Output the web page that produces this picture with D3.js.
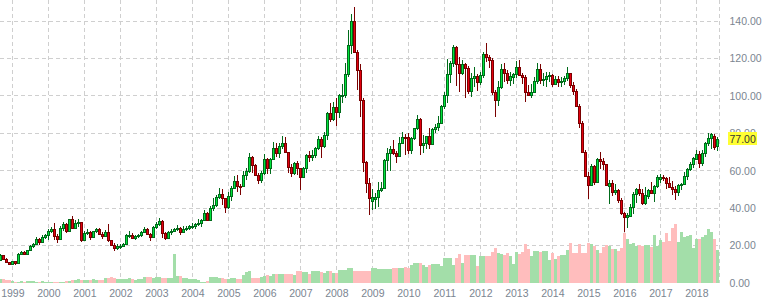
<!DOCTYPE html>
<html>
<head>
<meta charset="utf-8">
<script src="https://cdn.jsdelivr.net/npm/d3@7/dist/d3.min.js"></script>
<style>
body { margin: 0; background: #fff; }
.axis text { font-family: Arial, "Liberation Sans", sans-serif; font-size: 10.5px; fill: #7b8591; }
</style>
</head>
<body>
<div id="chart"></div>
<script>
// monthly candles, Sep 1998 .. Aug 2018

var years = [1999, 2000, 2001, 2002, 2003, 2004, 2005, 2006, 2007, 2008, 2009,
             2010, 2011, 2012, 2013, 2014, 2015, 2016, 2017, 2018];
var priceTicks = [0, 20, 40, 60, 80, 100, 120, 140];

var opens = [
    12.4, 14.8, 12.9, 11.1,
    10.4, 11.6, 10.6, 15.4, 16.6, 15.5, 17.6, 19.9, 20.9, 23.6, 21.8, 24.6,
    25.6, 27.6, 28.8, 25.0, 23.6, 29.6, 31.6, 27.8, 34.0, 29.6, 31.8, 32.4,
    23.2, 26.8, 27.4, 24.6, 27.6, 28.6, 26.2, 25.2, 27.2, 22.8, 20.4, 18.6,
    19.6, 19.8, 21.0, 25.6, 25.8, 24.2, 25.0, 25.6, 27.2, 28.6, 26.4, 24.8,
    29.8, 31.6, 33.2, 26.6, 24.0, 27.4, 27.6, 29.0, 29.6, 27.2, 28.8, 29.6,
    30.4, 30.6, 31.4, 31.9, 33.7, 37.4, 33.8, 40.0, 41.6, 46.2, 47.8, 45.2,
    40.6, 46.6, 50.6, 54.6, 51.8, 51.6, 57.6, 59.6, 67.4, 63.0, 57.8, 55.0,
    59.0, 66.0, 61.4, 66.4, 72.0, 69.6, 73.2, 75.0, 69.8, 61.8, 58.6, 64.0,
    61.2, 56.8, 61.6, 68.2, 67.4, 68.6, 72.0, 77.2, 73.2, 79.2, 90.8, 87.8,
    93.8, 91.6, 100.2, 100.4, 111.6, 127.4, 139.8, 123.4, 114.0, 97.8, 64.8, 53.4,
    43.6, 45.0, 46.2, 49.6, 50.6, 65.6, 69.3, 71.6, 69.4, 68.0, 75.0, 78.0,
    77.8, 71.2, 77.4, 82.6, 87.4, 74.0, 75.0, 78.4, 74.2, 82.2, 83.4, 85.6,
    94.6, 100.4, 111.8, 117.6, 126.0, 117.2, 112.4, 116.8, 114.8, 102.8, 109.6, 110.6,
    107.4, 111.0, 122.6, 121.0, 119.4, 101.8, 97.6, 104.8, 114.6, 112.2, 108.6, 110.2,
    111.6, 115.6, 111.4, 110.0, 102.2, 100.4, 102.0, 107.8, 114.2, 108.4, 109.0, 110.6,
    111.2, 106.6, 109.0, 107.6, 108.2, 109.4, 112.2, 106.0, 102.6, 94.6, 85.6, 70.2,
    57.2, 52.6, 62.4, 54.2, 66.4, 65.2, 63.4, 51.8, 53.2, 48.4, 49.6, 44.6,
    37.4, 35.2, 36.0, 40.4, 47.6, 50.0, 48.2, 42.6, 46.6, 49.8, 48.2, 51.6,
    55.8, 56.6, 56.0, 53.4, 51.2, 50.2, 48.6, 52.6, 52.8, 57.4, 60.8, 63.4,
    66.4, 68.8, 64.2, 69.4, 75.0, 77.4, 78.6, 73.2
];

var highs = [
    15.6, 15.0, 13.2, 11.4,
    12.0, 11.8, 15.8, 17.3, 17.0, 17.9, 20.4, 21.4, 24.6, 24.0, 25.4, 26.4,
    28.6, 30.0, 32.0, 26.4, 30.2, 32.6, 32.2, 34.4, 35.8, 33.6, 34.2, 32.8,
    27.8, 28.8, 27.6, 28.0, 29.6, 29.4, 27.0, 28.2, 31.4, 23.2, 21.6, 20.6,
    20.8, 21.4, 26.4, 27.8, 26.8, 25.6, 26.4, 27.6, 30.0, 29.4, 26.6, 30.4,
    32.8, 34.8, 33.8, 27.2, 28.0, 28.8, 29.4, 30.8, 29.8, 30.6, 30.2, 30.8,
    32.0, 32.2, 34.0, 34.4, 39.2, 38.0, 41.0, 45.3, 47.0, 51.0, 50.2, 45.6,
    48.6, 51.8, 57.4, 57.8, 53.0, 59.6, 61.4, 69.2, 67.8, 63.6, 58.6, 59.6,
    68.8, 66.6, 66.8, 75.4, 74.6, 74.6, 78.6, 78.0, 70.2, 63.6, 64.6, 65.0,
    61.6, 62.0, 68.8, 70.4, 71.0, 72.8, 78.6, 77.8, 80.6, 91.2, 96.2, 96.6,
    98.6, 101.2, 106.6, 117.8, 135.0, 143.6, 147.6, 124.6, 117.2, 98.6, 65.4, 56.0,
    50.4, 48.0, 54.0, 54.0, 66.0, 72.0, 73.2, 76.4, 70.4, 78.0, 80.6, 79.6,
    80.0, 78.2, 83.0, 89.8, 88.0, 79.0, 78.8, 83.0, 82.6, 85.2, 89.0, 95.0,
    101.8, 119.8, 118.8, 127.0, 126.6, 120.6, 119.0, 117.6, 116.0, 112.4, 115.4, 111.6,
    113.0, 123.2, 128.2, 122.0, 120.0, 103.0, 108.0, 117.0, 117.8, 114.0, 112.6, 112.4,
    118.4, 119.2, 112.0, 111.0, 106.0, 106.2, 110.2, 117.4, 117.0, 112.0, 112.8, 113.0,
    111.8, 110.8, 110.4, 110.0, 110.6, 115.6, 112.4, 107.4, 103.8, 95.6, 86.6, 71.0,
    59.2, 63.4, 63.2, 67.0, 70.2, 66.6, 63.6, 54.8, 54.8, 53.0, 50.4, 45.4,
    38.2, 37.6, 42.4, 48.6, 50.6, 52.8, 50.4, 51.2, 50.4, 53.8, 52.4, 57.8,
    58.4, 57.8, 56.8, 56.6, 54.6, 52.0, 53.0, 53.4, 59.4, 61.4, 64.6, 67.2,
    71.2, 70.4, 71.0, 75.6, 80.4, 80.0, 79.4, 77.8
];

var lows = [
    12.1, 12.4, 10.9, 9.6,
    10.0, 9.8, 10.4, 14.8, 14.9, 15.2, 17.3, 18.9, 20.4, 20.4, 21.4, 23.5,
    23.2, 26.6, 23.2, 21.4, 23.2, 27.8, 26.8, 27.4, 28.8, 29.0, 30.0, 21.8,
    22.6, 25.6, 23.2, 23.8, 26.8, 25.6, 23.6, 24.6, 22.0, 19.6, 17.0, 17.6,
    18.0, 19.0, 20.6, 24.0, 23.4, 23.0, 23.8, 24.6, 26.8, 25.8, 22.6, 24.2,
    28.6, 30.4, 24.0, 23.0, 23.4, 25.8, 27.0, 28.0, 25.4, 26.8, 27.6, 28.4,
    28.6, 28.8, 30.4, 29.8, 33.2, 33.0, 33.4, 38.6, 40.4, 45.0, 41.6, 37.6,
    39.6, 43.6, 50.0, 48.8, 47.0, 51.4, 54.8, 58.8, 58.6, 57.0, 52.8, 53.2,
    57.6, 58.4, 58.4, 65.8, 67.4, 66.8, 71.6, 69.6, 58.8, 56.6, 57.8, 57.6,
    49.8, 56.2, 58.8, 64.6, 65.4, 67.0, 71.0, 67.0, 72.4, 76.4, 86.0, 86.4,
    84.0, 88.0, 96.2, 98.6, 110.0, 122.6, 122.8, 103.0, 88.8, 59.4, 48.2, 36.2,
    39.2, 39.4, 40.8, 48.6, 50.2, 59.6, 59.6, 68.6, 64.0, 67.4, 74.8, 68.6,
    68.8, 69.0, 76.6, 82.0, 68.4, 69.6, 71.6, 71.6, 73.6, 80.0, 81.2, 85.2,
    93.0, 96.4, 106.8, 115.6, 105.4, 102.2, 111.0, 98.8, 101.2, 99.6, 104.8, 102.8,
    105.6, 109.6, 118.0, 115.0, 100.4, 88.6, 94.6, 103.6, 107.4, 106.2, 105.4, 106.4,
    109.4, 110.4, 106.2, 96.6, 100.4, 99.0, 101.6, 106.4, 106.6, 105.2, 104.8, 107.6,
    104.8, 105.6, 104.6, 104.6, 105.6, 108.0, 104.4, 100.6, 94.0, 82.6, 69.8, 56.4,
    45.0, 52.0, 52.6, 53.4, 61.0, 60.4, 51.6, 42.2, 46.4, 47.2, 42.8, 36.2,
    27.0, 29.6, 35.6, 36.8, 43.0, 46.6, 41.6, 41.6, 44.8, 47.8, 43.2, 51.0,
    53.6, 54.6, 50.4, 50.6, 47.0, 44.4, 46.6, 49.8, 52.2, 55.0, 59.6, 61.4,
    66.0, 61.6, 62.4, 67.2, 73.4, 71.8, 71.0, 70.6
];

var closes = [
    14.8, 12.9, 11.1, 10.4,
    11.6, 10.6, 15.4, 16.6, 15.5, 17.6, 19.9, 20.9, 23.6, 21.8, 24.6, 25.6,
    27.6, 28.8, 25.0, 23.6, 29.6, 31.6, 27.8, 34.0, 29.6, 31.8, 32.4, 23.2,
    26.8, 27.4, 24.6, 27.6, 28.6, 26.2, 25.2, 27.2, 22.8, 20.4, 18.6, 19.6,
    19.8, 21.0, 25.6, 25.8, 24.2, 25.0, 25.6, 27.2, 28.6, 26.4, 24.8, 29.8,
    31.6, 33.2, 26.6, 24.0, 27.4, 27.6, 29.0, 29.6, 27.2, 28.8, 29.6, 30.4,
    30.6, 31.4, 31.9, 33.7, 37.4, 33.8, 40.0, 41.6, 46.2, 47.8, 45.2, 40.6,
    46.6, 50.6, 54.6, 51.8, 51.6, 57.6, 59.6, 67.4, 63.0, 57.8, 55.0, 59.0,
    66.0, 61.4, 66.4, 72.0, 69.6, 73.2, 75.0, 69.8, 61.8, 58.6, 64.0, 61.2,
    56.8, 61.6, 68.2, 67.4, 68.6, 72.0, 77.2, 73.2, 79.2, 90.8, 87.8, 93.8,
    91.6, 100.2, 100.4, 111.6, 127.4, 139.8, 123.4, 114.0, 97.8, 64.8, 53.4, 45.4,
    46.0, 46.2, 49.6, 50.6, 65.6, 69.3, 71.6, 69.4, 68.0, 75.0, 78.0, 77.8,
    71.2, 77.4, 82.6, 87.4, 74.0, 75.0, 78.4, 74.2, 82.2, 83.4, 85.6, 94.6,
    100.4, 111.8, 117.6, 126.0, 117.2, 112.4, 116.8, 114.8, 102.8, 109.6, 110.6, 107.4,
    111.0, 122.6, 121.0, 119.4, 101.8, 97.6, 104.8, 114.6, 112.2, 108.6, 110.6, 111.6,
    115.6, 111.4, 110.0, 102.2, 100.4, 102.0, 107.8, 114.2, 108.4, 109.0, 110.6, 111.2,
    106.6, 109.0, 107.6, 108.2, 109.4, 112.2, 106.0, 102.6, 94.6, 85.6, 70.2, 57.2,
    52.6, 62.4, 54.2, 66.4, 65.2, 63.4, 52.2, 53.2, 48.4, 49.6, 44.6, 37.2,
    35.2, 36.6, 40.4, 47.6, 50.0, 48.2, 43.0, 46.8, 49.8, 48.2, 51.6, 56.8,
    56.6, 56.0, 53.4, 51.2, 50.2, 48.6, 52.6, 52.8, 57.4, 60.8, 63.4, 66.6,
    68.8, 64.2, 69.4, 75.0, 77.4, 79.6, 72.8, 77.0
];

var volumes = [
    4, 4, 3, 3,
    2, 1, 1, 2, 1, 2, 2, 2, 1, 1, 2, 1,
    1, 1, 1, 1, 1, 1, 2, 2, 3, 3, 4, 3,
    3, 3, 3, 4, 3, 3, 3, 5, 5, 6, 5, 4,
    4, 4, 4, 5, 4, 3, 4, 4, 6, 6, 6, 5,
    6, 6, 5, 5, 5, 5, 29, 7, 7, 5, 5, 4,
    4, 4, 3, 1, 1, 2, 6, 6, 6, 5, 5, 4,
    4, 5, 5, 4, 4, 8, 11, 12, 5, 5, 5, 6,
    7, 8, 7, 9, 9, 9, 9, 9, 9, 9, 8, 12,
    12, 11, 11, 9, 12, 12, 12, 11, 10, 12, 12, 10,
    10, 13, 13, 13, 15, 15, 12, 12, 12, 12, 12, 12,
    15, 15, 14, 14, 14, 14, 14, 15, 15, 15, 15, 16,
    15, 18, 20, 20, 20, 18, 16, 18, 19, 19, 19, 17,
    25, 25, 25, 18, 25, 29, 20, 28, 28, 28, 28, 17,
    27, 27, 27, 27, 31, 35, 30, 29, 28, 30, 27, 19,
    31, 29, 31, 39, 34, 27, 32, 32, 31, 32, 32, 23,
    30, 24, 27, 28, 28, 33, 40, 30, 30, 39, 30, 30,
    40, 39, 37, 33, 30, 36, 38, 37, 34, 34, 32, 35,
    50, 44, 39, 40, 37, 38, 37, 38, 38, 36, 48, 37,
    43, 41, 50, 42, 55, 59, 41, 51, 46, 47, 48, 35,
    44, 44, 46, 48, 54, 51, 44, 33
];

var svgWidth = 763;
var svgHeight = 305;
var plotRight = 719.5;
var plotBottom = 283;

var svg = d3.select('#chart')
    .append('svg')
    .attr('width', svgWidth)
    .attr('height', svgHeight);

// index scale: one step per month, 0 = Sep 1998
var x = d3.scaleLinear()
    .domain([0, closes.length])
    .range([0.3, 720.3]);

var y = d3.scaleLinear()
    .domain([0, 140])
    .range([plotBottom, 21]);

var yVol = d3.scaleLinear()
    .domain([0, 60])
    .range([plotBottom, plotBottom - 60]);

var yearIndex = years.map(yr => (yr - 1998) * 12 - 8);

svg.append('clipPath')
    .attr('id', 'plot-clip')
    .append('rect')
    .attr('x', 0).attr('y', 0)
    .attr('width', plotRight).attr('height', plotBottom);

// grid
var grid = svg.append('g')
    .attr('stroke', '#cfcfcf')
    .attr('stroke-width', 1)
    .attr('stroke-dasharray', '4,3');

grid.selectAll('.hgrid')
    .data(priceTicks.filter(d => d > 0))
    .enter()
    .append('line')
    .attr('x1', 0)
    .attr('x2', plotRight)
    .attr('y1', d => Math.floor(y(d)) + 0.5)
    .attr('y2', d => Math.floor(y(d)) + 0.5);

grid.selectAll('.vgrid')
    .data(yearIndex)
    .enter()
    .append('line')
    .attr('x1', d => Math.round(x(d)) + 0.5)
    .attr('x2', d => Math.round(x(d)) + 0.5)
    .attr('y1', 0)
    .attr('y2', plotBottom);

grid.append('line')
    .attr('x1', plotRight).attr('x2', plotRight)
    .attr('y1', 0).attr('y2', plotBottom);

var plot = svg.append('g').attr('clip-path', 'url(#plot-clip)');

var idx = d3.range(closes.length);

// volume bars
plot.selectAll('.vol')
    .data(idx)
    .enter()
    .append('rect')
    .attr('x', i => Math.round(x(i) - 1.5))
    .attr('width', 3)
    .attr('y', i => Math.round(yVol(volumes[i])))
    .attr('height', i => plotBottom - Math.round(yVol(volumes[i])))
    .attr('fill', i => closes[i] >= opens[i] ? '#a3dea9' : '#ffbdbd');

// candles
var candle = plot.selectAll('.candle')
    .data(idx)
    .enter()
    .append('g');

candle.append('line')
    .attr('x1', i => Math.round(x(i) - 1.5) + 1.5)
    .attr('x2', i => Math.round(x(i) - 1.5) + 1.5)
    .attr('y1', i => Math.round(y(highs[i])))
    .attr('y2', i => Math.round(y(lows[i])))
    .attr('stroke', i => closes[i] >= opens[i] ? '#006b1a' : '#7a0000')
    .attr('stroke-width', 1);

candle.append('rect')
    .attr('x', i => Math.round(x(i) - 1.5) + 0.5)
    .attr('width', 2)
    .attr('y', i => Math.round(y(Math.max(opens[i], closes[i]))) + 0.5)
    .attr('height', i => Math.max(1, Math.round(y(Math.min(opens[i], closes[i]))) - Math.round(y(Math.max(opens[i], closes[i])))))
    .attr('fill', i => closes[i] >= opens[i] ? '#00e33c' : '#e3000f')
    .attr('stroke', i => closes[i] >= opens[i] ? '#006b1a' : '#7a0000')
    .attr('stroke-width', 1);

// axes
var rightAxis = d3.axisRight(y)
    .tickValues(priceTicks)
    .tickFormat(d3.format('.2f'))
    .tickSize(0)
    .tickPadding(10);

svg.append('g')
    .attr('class', 'axis')
    .attr('transform', `translate(${plotRight}, 0)`)
    .call(rightAxis)
    .call(g => g.select('.domain').remove());

var bottomAxis = d3.axisBottom(x)
    .tickValues(yearIndex)
    .tickFormat((d, i) => years[i])
    .tickSize(0)
    .tickPadding(6.5);

svg.append('g')
    .attr('class', 'axis')
    .attr('transform', `translate(0, ${plotBottom})`)
    .call(bottomAxis)
    .call(g => g.select('.domain').remove());

// last price marker
var last = closes[closes.length - 1];
var lastY = y(last);

svg.append('rect')
    .attr('x', 728)
    .attr('y', Math.round(lastY) - 7)
    .attr('width', 29)
    .attr('height', 13)
    .attr('fill', '#ffff33');

svg.append('text')
    .attr('x', 729.5)
    .attr('y', lastY)
    .attr('dy', '0.35em')
    .style('font-family', 'Arial, "Liberation Sans", sans-serif')
    .style('font-size', '10.5px')
    .style('fill', '#333')
    .text(d3.format('.2f')(last));
</script>
</body>
</html>
